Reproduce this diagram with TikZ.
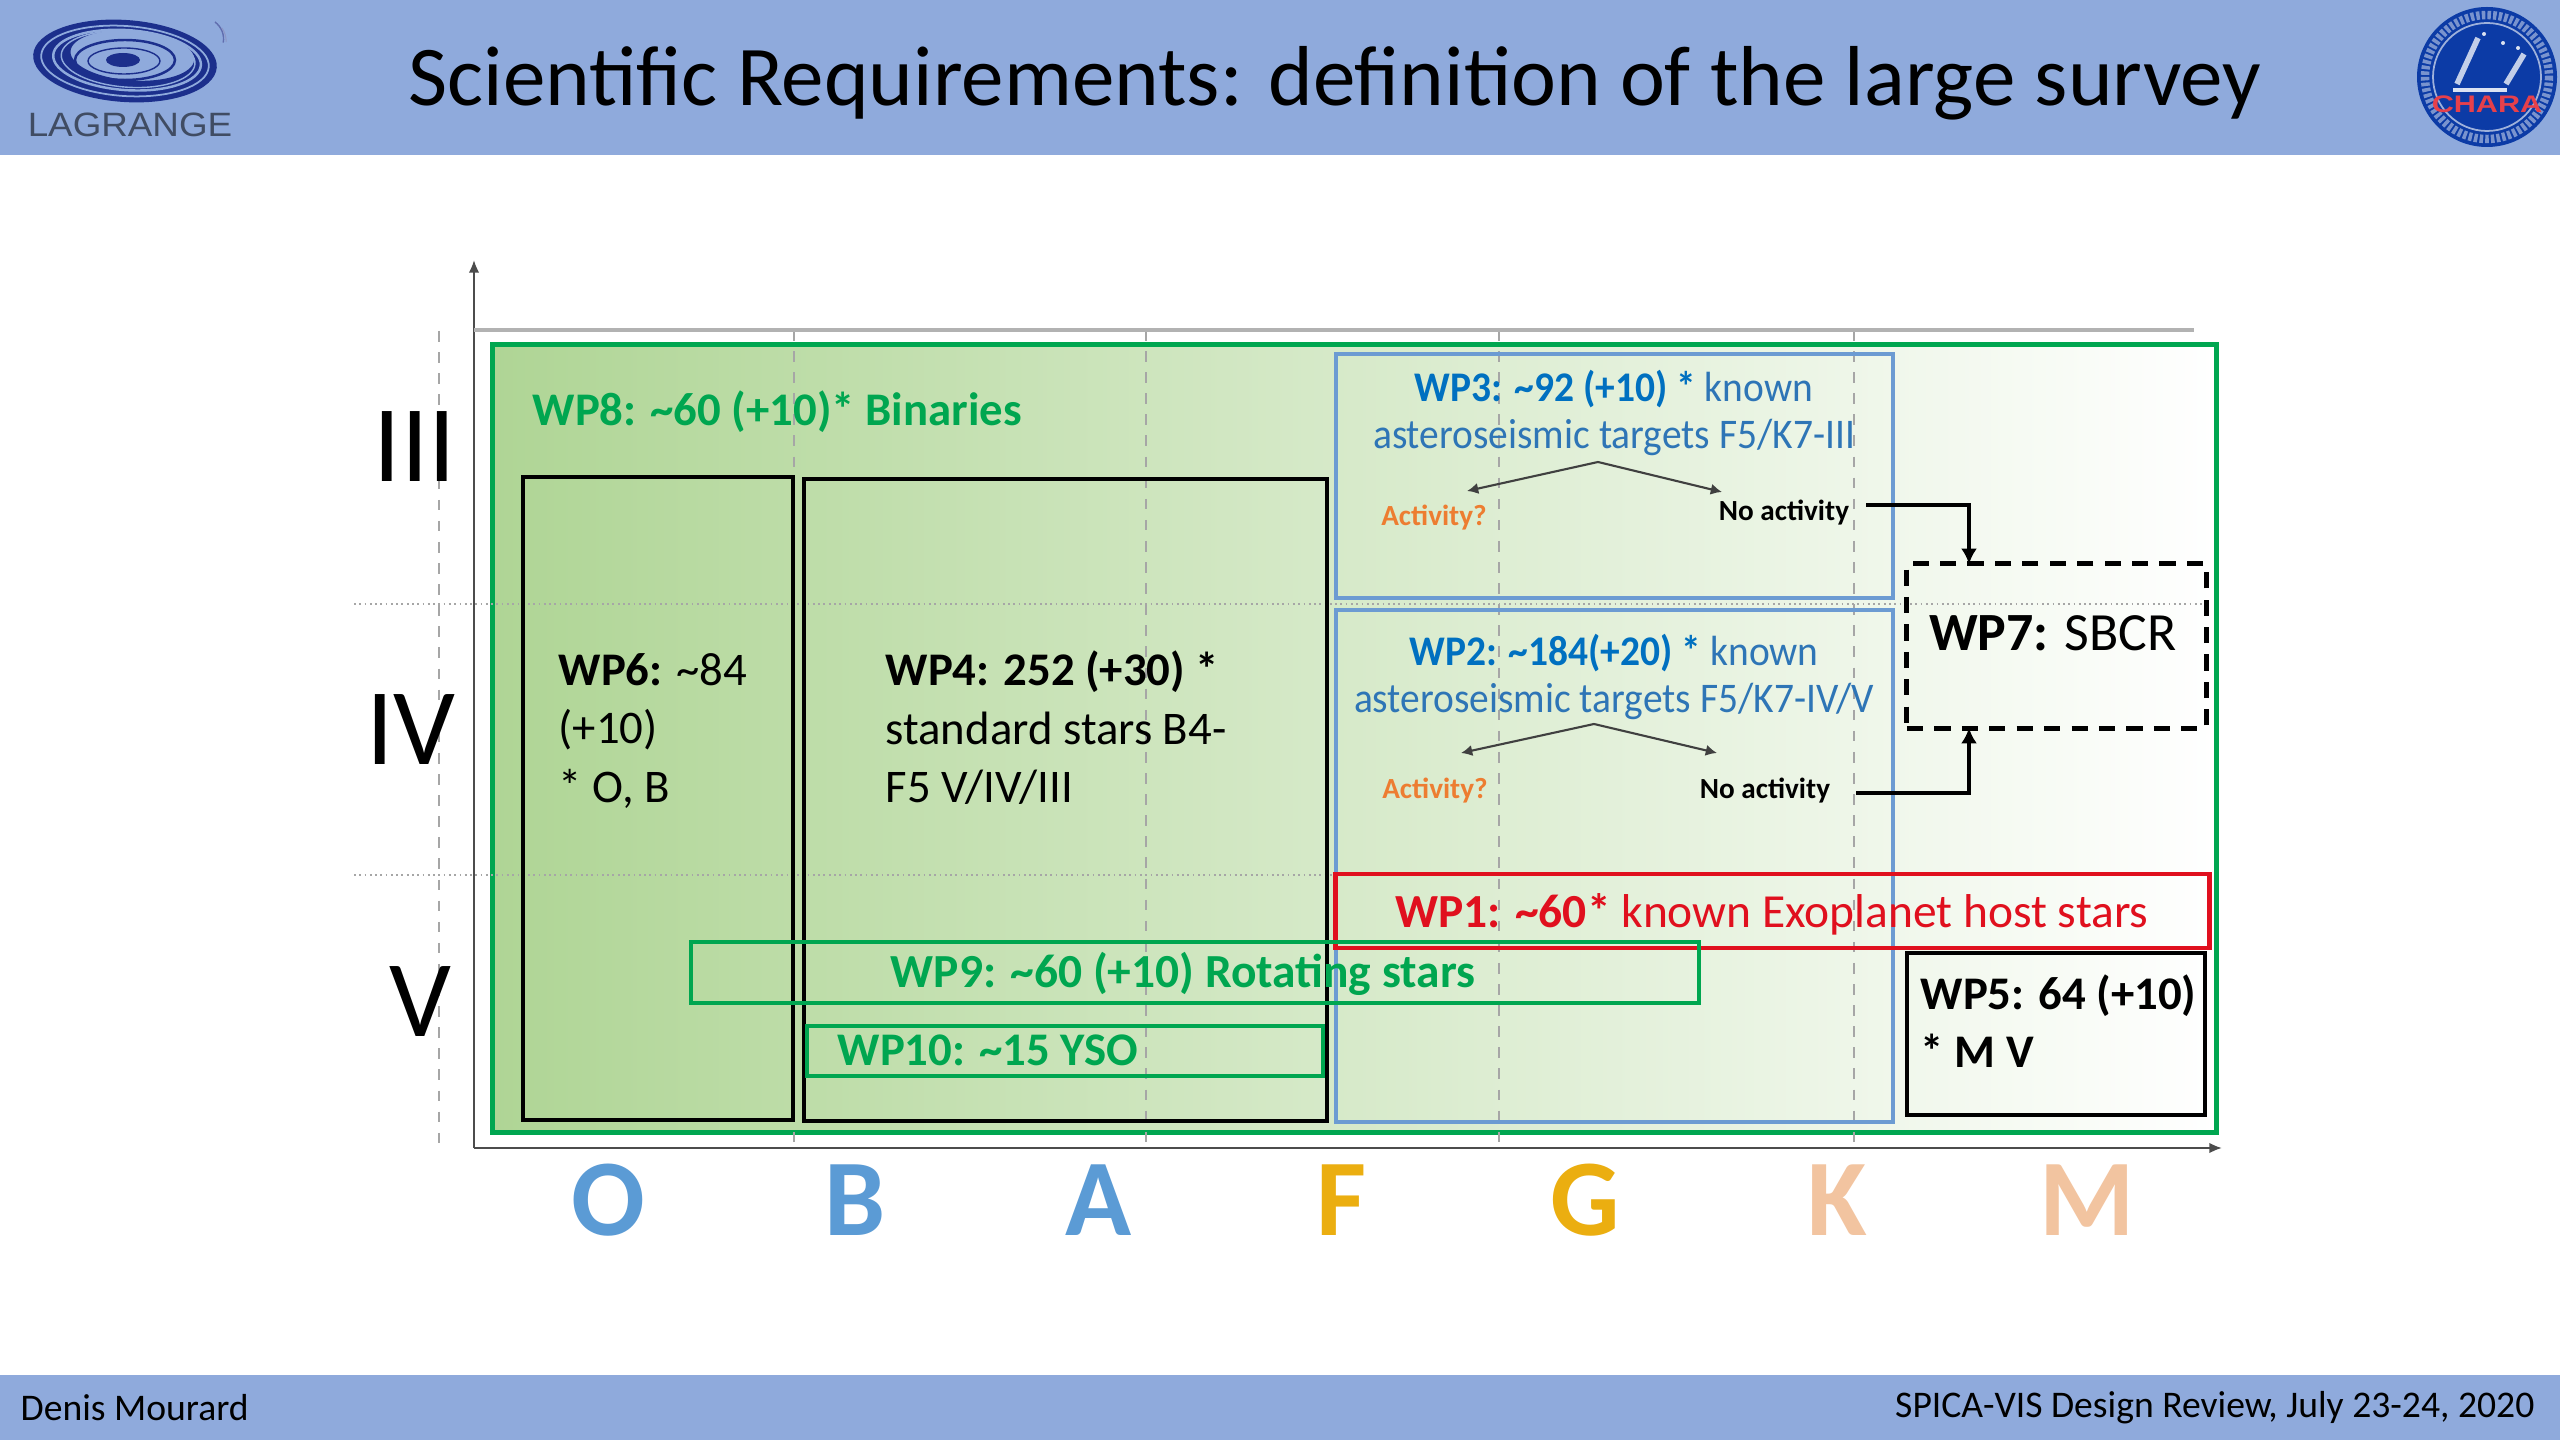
\documentclass[tikz,border=0pt]{standalone}
\usepackage{fontspec}
\setmainfont{Carlito}
\newfontfamily\logofont{Liberation Sans}
\usepackage{xcolor}
\usepackage{tikz}
\usetikzlibrary{arrows.meta,positioning,calc}

\definecolor{bandblue}{HTML}{8FAADC}
\definecolor{swirlblue}{HTML}{1C2F8C}
\definecolor{sealblue}{HTML}{0C3BA6}
\definecolor{wpgreen}{HTML}{00A650}
\definecolor{wpblue}{HTML}{6C9BD2}
\definecolor{wpred}{HTML}{E0101E}
\definecolor{boldblue}{HTML}{0070C0}
\definecolor{textblue}{HTML}{2E75B6}
\definecolor{actorange}{HTML}{ED7D31}
\definecolor{classblue}{HTML}{5B9BD5}
\definecolor{classgold}{HTML}{EBAE10}
\definecolor{classpeach}{HTML}{F2C4A0}
\definecolor{fillleft}{HTML}{AFD595}
\definecolor{fillmid}{HTML}{D5EBC6}

\tikzset{
  wpbox/.style={draw,inner sep=0pt,line width=1.2pt},
  gridv/.style={gray!70,dashed,line width=0.35pt},
  gridh/.style={gray!70,densely dotted,line width=0.5pt},
  axisline/.style={black!70,line width=0.6pt,-{Latex[length=3.6pt,width=3pt]}},
  split/.style={black!75,line width=0.6pt,-{Latex[length=3.2pt,width=3.2pt]}},
  feed/.style={black,line width=0.9pt,-{Latex[length=4.4pt,width=4.6pt]}},
  wptext/.style={font=\fontsize{13.3}{16.6}\selectfont,inner sep=0pt},
  seismic/.style={font=\fontsize{12}{13.5}\selectfont,inner sep=0pt,xscale=0.935,transform shape},
  smalltext/.style={font=\fontsize{8.3}{10}\selectfont\bfseries,inner sep=0pt},
  lumclass/.style={font=\fontsize{31}{32}\selectfont,inner sep=0pt},
  specclass/.style={font=\fontsize{31}{32}\selectfont\bfseries,inner sep=0pt},
  bartext/.style={font=\fontsize{10.7}{12}\selectfont,inner sep=0pt},
}

\begin{document}
\begin{tikzpicture}[x=0.01cm,y=-0.01cm]
  \useasboundingbox (0,0) rectangle (2560,1440);
  \fill[white] (0,0) rectangle (2560,1440);

  % bands
  \fill[bandblue] (0,0) rectangle (2560,155);
  \fill[bandblue] (0,1375) rectangle (2560,1440);
  \node[inner sep=0pt,font=\fontsize{24.2}{28}\selectfont] (title) at (1335,83) {Scientific Requirements: definition of the large survey};
  \node[bartext,anchor=west] (speaker) at (20,1408) {Denis Mourard};
  \node[bartext,anchor=east] (meeting) at (2535,1408) {SPICA-VIS Design Review, July 23-24, 2020};

  % left logo
  \fill[swirlblue,even odd rule,rotate around={-4:(125,61)}] (125,61) ellipse (92 and 41) (132,55) ellipse (62 and 25);
  \draw[bandblue,line width=0.5pt,rotate around={-4:(125,61)}] (125,61) ellipse (84 and 35);
  \draw[bandblue,line width=0.7pt,rotate around={-4:(125,61)}] (127,60) ellipse (74 and 30);
  \draw[bandblue,line width=0.4pt,rotate around={-4:(125,61)}] (128,59) ellipse (67 and 28);
  \draw[swirlblue,line width=0.7pt] (125,60) ellipse (50 and 20);
  \draw[swirlblue,line width=0.4pt] (124,61) ellipse (36 and 13);
  \fill[swirlblue] (123,60) ellipse (17 and 7);
  \draw[swirlblue!70,line width=0.4pt] (215,22) arc (-50:10:24 and 22);
  \draw[swirlblue!50,line width=0.3pt] (222,28) arc (-40:0:18 and 22);
  \node[inner sep=0pt,text=black!55!bandblue,font=\logofont\fontsize{9.6}{10}\selectfont,xscale=1.09,transform shape] (lagrange) at (130,125) {LAGRANGE};

  % right logo
  \fill[sealblue] (2487,77) circle (70);
  \draw[white!45!sealblue,line width=2.4pt,dash pattern=on 1pt off 0.6pt] (2487,77) circle (62);
  \draw[white!60!sealblue,line width=0.5pt] (2487,77) circle (54);
  \draw[white!85!sealblue,line width=0.9pt] (2453,90) -- (2507,90);
  \draw[white!75!sealblue,line width=1.6pt] (2457,84) -- (2478,38);
  \draw[white!75!sealblue,line width=1.6pt] (2506,84) -- (2524,54);
  \fill[white!85!sealblue] (2484,34) circle (2);
  \fill[white!85!sealblue] (2503,43) circle (2);
  \fill[white!85!sealblue] (2518,48) circle (2);
  \node[inner sep=0pt,text=wpred!80!white,font=\logofont\fontsize{6.8}{8}\selectfont\bfseries,xscale=1.28,transform shape] (chara) at (2487,104) {CHARA};

  % outermost box
  \node[wpbox,wpgreen,line width=1.5pt,left color=fillleft,middle color=fillmid,right color=white,minimum width=17.23cm,minimum height=7.87cm] (wpeight) at (1354.5,738.5) {};

  % grid
  \draw[gridv] (439,331) -- (439,1147);
  \draw[gridv] (794,330) -- (794,1148);
  \draw[gridv] (1146,330) -- (1146,1148);
  \draw[gridv] (1499,330) -- (1499,1148);
  \draw[gridv] (1854,330) -- (1854,1148);
  \draw[gridh] (354,604) -- (2208,604);
  \draw[gridh] (354,875) -- (2208,875);

  % axes
  \coordinate (origin) at (474,1148);
  \coordinate (ytip) at (474,260);
  \coordinate (xtip) at (2222,1148);
  \draw[axisline] (origin) -- (ytip);
  \draw[axisline] (origin) -- (xtip);
  \draw[black!30,line width=0.9pt] (474,330) -- (2194,330);

  % boxes
  \node[wpbox,minimum width=2.70cm,minimum height=6.43cm] (wpsix) at (658,798.5) {};
  \node[wpbox,minimum width=5.23cm,minimum height=6.42cm] (wpfour) at (1065.5,800) {};
  \node[wpbox,wpblue,minimum width=5.57cm,minimum height=2.44cm] (wpthree) at (1614.5,476) {};
  \node[wpbox,wpblue,minimum width=5.57cm,minimum height=5.12cm] (wptwo) at (1614.5,866) {};
  \node[wpbox,wpred,line width=1.3pt,minimum width=8.73cm,minimum height=0.74cm] (wpone) at (1772.5,911) {};
  \node[wpbox,wpgreen,minimum width=10.08cm,minimum height=0.61cm] (wpnine) at (1195,972.5) {};
  \node[wpbox,wpgreen,line width=1pt,minimum width=5.16cm,minimum height=0.50cm] (wpten) at (1065,1051) {};
  \node[wpbox,minimum width=2.98cm,minimum height=1.62cm] (wpfive) at (2056,1034) {};
  \node[wpbox,line width=1.4pt,dash pattern=on 4.6pt off 3.2pt,minimum width=2.99cm,minimum height=1.64cm] (wpseven) at (2056.5,646) {};

  % labels of the boxes
  \node[wptext,anchor=west,text=wpgreen] (lblwpeight) at (532,412) {\textbf{WP8: \textasciitilde60 (+10)* Binaries}};
  \node[wptext,anchor=west,align=left] (lblwpsix) at (558,731) {\textbf{WP6:} \textasciitilde84\\(+10)\\* O, B};
  \node[wptext,anchor=west,align=left] (lblwpfour) at (885,728) {\textbf{WP4: 252 (+30) *}\\standard stars B4-\\F5 V/IV/III};
  \node[seismic,align=center,text=textblue] (lblwpthree) at (1614,413) {\textcolor{boldblue}{\textbf{WP3: \textasciitilde92 (+10) *}} known\\asteroseismic targets F5/K7-III};
  \node[seismic,align=center,text=textblue] (lblwptwo) at (1614,677) {\textcolor{boldblue}{\textbf{WP2: \textasciitilde184(+20) *}} known\\asteroseismic targets F5/K7-IV/V};
  \node[wptext,text=wpred,font=\fontsize{13.5}{16.6}\selectfont] (lblwpone) at (1772,914) {\textbf{WP1: \textasciitilde60*} known Exoplanet host stars};
  \node[wptext,text=wpgreen,font=\fontsize{13.5}{16.6}\selectfont] (lblwpnine) at (1183,974) {\textbf{WP9: \textasciitilde60 (+10) Rotating stars}};
  \node[wptext,anchor=west,text=wpgreen] (lblwpten) at (837,1050) {\textbf{WP10: \textasciitilde15 YSO}};
  \node[wptext,anchor=west,align=left] (lblwpfive) at (1920,1021) {\textbf{WP5: 64 (+10)}\\\textbf{* M V}};
  \node[wptext,font=\fontsize{15.3}{17}\selectfont] (lblwpseven) at (2053,633) {\textbf{WP7:} SBCR};

  % activity splits
  \node[smalltext,text=actorange] (actthree) at (1434,518) {Activity?};
  \node[smalltext] (noactthree) at (1784,513) {No activity};
  \node[smalltext,text=actorange] (acttwo) at (1435,791) {Activity?};
  \node[smalltext] (noacttwo) at (1765,791) {No activity};
  \coordinate (peakthree) at (1598,462);
  \coordinate (leftthree) at (1467,491);
  \coordinate (rightthree) at (1722,492);
  \coordinate (peaktwo) at (1594,724);
  \coordinate (lefttwo) at (1461,753);
  \coordinate (righttwo) at (1717,753);
  \draw[split] (peakthree) -- (leftthree);
  \draw[split] (peakthree) -- (rightthree);
  \draw[split] (peaktwo) -- (lefttwo);
  \draw[split] (peaktwo) -- (righttwo);
  \coordinate (feedthree) at (1969,564);
  \coordinate (feedtwo) at (1969,728);
  \coordinate (startthree) at (1866,505);
  \coordinate (starttwo) at (1856,793);
  \draw[feed] (startthree) -| (feedthree);
  \draw[feed] (starttwo) -| (feedtwo);

  % luminosity classes
  \node[lumclass] (lumthree) at (415,447) {III};
  \node[lumclass] (lumfour) at (411,730) {IV};
  \node[lumclass] (lumfive) at (420,1002) {V};

  % spectral classes
  \node[specclass,text=classblue] (classo) at (608,1200) {O};
  \node[specclass,text=classblue] (classb) at (855,1200) {B};
  \node[specclass,text=classblue] (classa) at (1099,1200) {A};
  \node[specclass,text=classgold] (classf) at (1342,1200) {F};
  \node[specclass,text=classgold] (classg) at (1585,1200) {G};
  \node[specclass,text=classpeach] (classk) at (1837,1200) {K};
  \node[specclass,text=classpeach] (classm) at (2087,1200) {M};
\end{tikzpicture}
\end{document}
